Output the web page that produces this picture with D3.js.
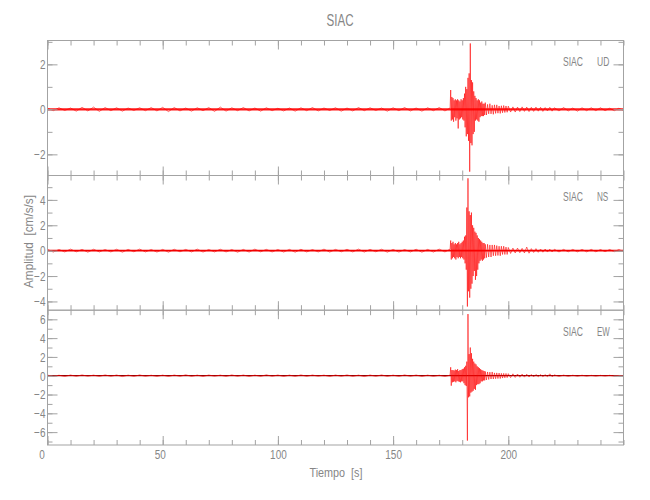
<!DOCTYPE html>
<html>
<head>
<meta charset="utf-8">
<script src="https://cdn.jsdelivr.net/npm/d3@7"></script>
<style>
  html, body { margin: 0; padding: 0; background: #fff; }
  svg text { font-family: "Liberation Sans", Arial, sans-serif; fill: #868686; }
</style>
</head>
<body>
<script>
// ---------------- DATA ----------------
const title = "SIAC";
const station = "SIAC";
const components = ["UD", "NS", "EW"];
const xLabel = "Tiempo  [s]";
const yLabel = "Amplitud  [cm/s/s]";
const xTicksMajor = [0, 50, 100, 150, 200];
const udTicks = [-2, 0, 2];
const nsTicks = [-4, -2, 0, 2, 4];
const ewTicks = [-6, -4, -2, 0, 2, 4, 6];

const times = [
  0,2.5,5,7.5,10,12.5,15,17.5,20,22.5,
  25,27.5,30,32.5,35,37.5,40,42.5,45,47.5,
  50,52.5,55,57.5,60,62.5,65,67.5,70,72.5,
  75,77.5,80,82.5,85,87.5,90,92.5,95,97.5,
  100,102.5,105,107.5,110,112.5,115,117.5,120,122.5,
  125,127.5,130,132.5,135,137.5,140,142.5,145,147.5,
  150,152.5,155,157.5,160,162.5,165,167.5,170,172.5,
  174.75,
  175,175.25,175.5,175.75,176,176.25,176.5,176.75,177,177.25,
  177.5,177.75,178,178.25,178.5,178.75,179,179.25,179.5,179.75,
  180,180.25,180.5,180.75,181,181.25,181.5,181.75,182,182.25,
  182.5,182.75,183,183.25,183.5,183.75,184,184.25,184.5,184.75,
  185,185.25,185.5,185.75,186,186.25,186.5,186.75,187,187.25,
  187.5,187.75,188,188.25,188.5,188.75,189,189.25,189.5,189.75,
  190,
  190.5,191,191.5,192,192.5,193,193.5,194,194.5,195,
  195.5,196,196.5,197,197.5,198,198.5,199,199.5,200,
  201,202,203,204,205,206,207,208,209,210,
  211,212,213,214,215,216,217,218,219,220,
  222,224,226,228,230,232,234,236,238,240,242,244,246,248,250
];

const ud = [
  0.05,-0.06,0.07,-0.05,0.06,-0.08,0.09,-0.07,0.1,-0.09,
  0.08,-0.06,0.07,-0.08,0.06,-0.05,0.07,-0.06,0.08,-0.07,
  0.09,-0.1,0.08,-0.07,0.06,-0.08,0.07,-0.06,0.08,-0.09,
  0.1,-0.08,0.07,-0.06,0.08,-0.07,0.06,-0.08,0.07,-0.06,
  0.05,-0.07,0.06,-0.08,0.07,-0.06,0.08,-0.07,0.06,-0.05,
  0.07,-0.08,0.06,-0.07,0.08,-0.06,0.07,-0.05,0.06,-0.08,
  0.07,-0.06,0.08,-0.07,0.06,-0.08,0.07,-0.06,0.08,-0.07,
  0.06,
  0.86,-0.5,0.55,-0.45,0.5,-0.55,0.4,-0.35,0.45,-0.5,
  0.4,-0.4,0.45,-0.85,0.4,-0.45,0.35,-0.4,0.45,-0.35,
  0.4,-0.45,0.5,-0.5,0.7,-0.8,1.0,-1.2,0.9,-1.1,
  1.4,-1.4,1.6,-2.77,2.93,-1.5,1.3,-1.6,1.2,-1.1,
  0.8,-1.0,0.6,-0.5,0.5,-0.45,0.4,-0.5,0.45,-0.55,
  0.4,-0.35,0.3,-0.3,0.35,-0.3,0.25,-0.3,0.25,-0.25,
  0.3,
  -0.25,0.22,-0.2,0.25,-0.2,0.18,-0.22,0.2,-0.18,0.2,
  -0.17,0.15,-0.18,0.16,-0.15,0.17,-0.14,0.15,-0.13,0.14,
  -0.12,0.11,-0.12,0.1,-0.1,0.11,-0.09,0.1,-0.1,0.09,
  -0.09,0.1,-0.08,0.09,-0.09,0.08,-0.07,0.09,-0.08,0.07,
  -0.07,0.08,-0.07,0.06,-0.08,0.07,-0.06,0.07,-0.06,0.07,-0.06,0.05,-0.06,0.05,-0.05
];

const ns = [
  0.1,-0.11,0.09,-0.1,0.12,-0.09,0.1,-0.12,0.11,-0.1,
  0.09,-0.1,0.11,-0.12,0.1,-0.09,0.12,-0.1,0.09,-0.11,
  0.1,-0.12,0.11,-0.09,0.1,-0.1,0.12,-0.11,0.09,-0.1,
  0.11,-0.1,0.09,-0.12,0.1,-0.11,0.12,-0.09,0.1,-0.1,
  0.09,-0.11,0.1,-0.12,0.11,-0.1,0.09,-0.1,0.12,-0.11,
  0.1,-0.09,0.11,-0.1,0.12,-0.11,0.1,-0.09,0.11,-0.12,
  0.1,-0.11,0.09,-0.1,0.11,-0.12,0.1,-0.11,0.12,-0.1,
  0.12,
  0.8,-0.7,0.6,-0.6,0.7,-0.5,0.5,-0.6,0.6,-0.7,
  0.5,-0.5,0.6,-0.6,0.7,-0.5,0.5,-0.6,0.6,-0.5,
  0.7,-0.6,0.8,-0.7,1.1,-1.0,1.2,-1.5,3.4,-4.4,
  5.7,-3.2,3.1,-3.7,2.8,-3.0,3.0,-2.6,2.0,-2.0,
  1.8,-1.6,1.5,-2.3,1.4,-2.0,1.2,-1.5,1.0,-1.0,
  0.9,-0.8,0.8,-0.7,0.7,-0.8,0.6,-0.7,0.6,-0.6,
  0.5,
  -0.55,0.5,-0.5,0.45,-0.5,0.45,-0.4,0.45,-0.4,0.4,
  -0.38,0.35,-0.4,0.35,-0.3,0.35,-0.3,0.28,-0.3,0.25,
  -0.22,0.2,-0.18,0.2,-0.16,0.18,-0.18,0.28,-0.2,0.16,
  -0.14,0.16,-0.13,0.13,-0.12,0.13,-0.11,0.12,-0.1,0.11,
  -0.1,0.1,-0.09,0.1,-0.09,0.1,-0.09,0.1,-0.09,0.09,-0.08,0.09,-0.08,0.09,-0.08
];

const ew = [
  0.06,-0.07,0.05,-0.08,0.07,-0.06,0.08,-0.05,0.06,-0.07,
  0.08,-0.06,0.07,-0.09,0.06,-0.07,0.08,-0.06,0.05,-0.07,
  0.06,-0.08,0.07,-0.06,0.09,-0.07,0.06,-0.08,0.07,-0.05,
  0.06,-0.07,0.08,-0.06,0.07,-0.08,0.06,-0.07,0.09,-0.06,
  0.07,-0.08,0.06,-0.07,0.08,-0.06,0.07,-0.05,0.06,-0.08,
  0.07,-0.06,0.08,-0.07,0.06,-0.09,0.07,-0.06,0.08,-0.07,
  0.06,-0.07,0.08,-0.06,0.07,-0.08,0.06,-0.07,0.05,-0.08,
  0.06,
  0.9,-1.06,0.6,-0.7,0.6,-0.65,0.55,-0.6,0.65,-0.7,
  0.6,-0.55,0.7,-0.6,0.5,-0.65,0.6,-0.7,0.6,-0.6,
  0.7,-0.6,0.75,-0.8,0.9,-1.0,1.06,-1.1,1.5,-6.9,
  6.56,-2.3,2.3,-2.2,3.0,-1.8,2.4,-1.7,1.8,-1.6,
  1.5,-1.4,1.3,-1.5,1.2,-1.0,1.0,-0.9,0.9,-0.9,
  0.8,-0.8,0.7,-0.6,0.6,-0.6,0.55,-0.5,0.5,-0.5,
  0.45,
  -0.45,0.4,-0.4,0.38,-0.35,0.4,-0.35,0.3,-0.32,0.3,
  -0.3,0.28,-0.3,0.25,-0.25,0.25,-0.22,0.24,-0.2,0.22,
  -0.2,0.2,-0.18,0.18,-0.16,0.17,-0.15,0.16,-0.14,0.13,
  -0.12,0.13,-0.11,0.12,-0.1,0.11,-0.1,0.2,-0.1,0.08,
  -0.07,0.06,-0.06,0.05,-0.05,0.05,-0.04,0.04,-0.04,0.04,-0.03,0.04,-0.03,0.03,-0.03
];

// ---------------- LAYOUT ----------------
const W = 650, H = 500;
const left = 47.5, right = 623.5;
const panels = [
  { comp: components[0], vals: ud, top: 40.5,  bottom: 175.5, dom: [-2.94, 3.06], major: udTicks, labelY: 66,    compW: 12.3, base: "#ff1a1a", baseW: 2.4 },
  { comp: components[1], vals: ns, top: 175.5, bottom: 310.2, dom: [-4.69, 5.92], major: nsTicks, labelY: 200.7, compW: 11.3, base: "#ee0000", baseW: 1.9 },
  { comp: components[2], vals: ew, top: 310.2, bottom: 445,   dom: [-7.37, 6.97], major: ewTicks, labelY: 336,   compW: 12.7, base: "#8a0000", baseW: 1.3 }
];

const svg = d3.select("body").append("svg")
  .attr("width", W).attr("height", H)
  .style("background", "#fff");

const x = d3.scaleLinear().domain([0, 250]).range([left, right]);
const xMinor = d3.range(0, 251, 10);

const axisColor = "#a3a3a3";
const tickFont = 13.5, sx = 0.74;
function styleAxis(g) {
  g.select(".domain").remove();
  g.selectAll(".tick line").attr("stroke", axisColor).attr("stroke-width", 1);
  g.selectAll(".tick text").attr("font-size", tickFont + "px").attr("fill", "#868686")
    .attr("font-family", '"Liberation Sans", Arial, sans-serif');
}
function narrowText(g) {
  g.selectAll(".tick text").each(function () {
    const t = d3.select(this);
    const tx = +t.attr("x") || 0;
    t.attr("transform", `translate(${tx},0) scale(${sx},1)`).attr("x", 0);
  });
}

panels.forEach((p, i) => {
  const y = d3.scaleLinear().domain(p.dom).range([p.bottom, p.top]);
  const yMinor = d3.range(Math.ceil(p.dom[0]), Math.floor(p.dom[1]) + 1, 1);
  const g = svg.append("g");

  const clipId = "clip" + i;
  svg.append("clipPath").attr("id", clipId).append("rect")
    .attr("x", left).attr("y", p.top).attr("width", right - left).attr("height", p.bottom - p.top);

  g.append("line")
    .attr("x1", x(0)).attr("x2", x(250)).attr("y1", y(0)).attr("y2", y(0))
    .attr("stroke", p.base).attr("stroke-width", p.baseW);

  const pts = times.map((t, k) => [t, p.vals[k]]);
  g.append("path")
    .datum(pts)
    .attr("clip-path", `url(#${clipId})`)
    .attr("fill", "none")
    .attr("stroke", "#ff0000")
    .attr("stroke-width", 0.7)
    .attr("stroke-opacity", 0.85)
    .attr("stroke-linejoin", "round")
    .attr("d", d3.line().x(d => x(d[0])).y(d => y(d[1])));

  svg.append("rect")
    .attr("x", left).attr("y", p.top).attr("width", right - left).attr("height", p.bottom - p.top)
    .attr("fill", "none").attr("stroke", axisColor).attr("stroke-width", 1);

  svg.append("g").attr("transform", `translate(${left},0)`)
    .call(d3.axisRight(y).tickValues(yMinor).tickSize(5).tickFormat("")).call(styleAxis);
  svg.append("g").attr("transform", `translate(${left},0)`)
    .call(d3.axisRight(y).tickValues(p.major).tickSize(10).tickFormat("")).call(styleAxis);
  svg.append("g").attr("transform", `translate(${left},0)`)
    .call(d3.axisLeft(y).tickValues(p.major).tickSize(0).tickPadding(2)
      .tickFormat(d => d < 0 ? "\u2212" + Math.abs(d) : String(d)))
    .call(styleAxis).call(narrowText);
  svg.append("g").attr("transform", `translate(${right},0)`)
    .call(d3.axisLeft(y).tickValues(yMinor).tickSize(5).tickFormat("")).call(styleAxis);
  svg.append("g").attr("transform", `translate(${right},0)`)
    .call(d3.axisLeft(y).tickValues(p.major).tickSize(10).tickFormat("")).call(styleAxis);

  svg.append("g").attr("transform", `translate(0,${p.top})`)
    .call(d3.axisBottom(x).tickValues(xMinor).tickSize(5).tickFormat("")).call(styleAxis);
  svg.append("g").attr("transform", `translate(0,${p.top})`)
    .call(d3.axisBottom(x).tickValues(xTicksMajor).tickSize(9).tickFormat("")).call(styleAxis);
  svg.append("g").attr("transform", `translate(0,${p.bottom})`)
    .call(d3.axisTop(x).tickValues(xMinor).tickSize(5).tickFormat("")).call(styleAxis);
  svg.append("g").attr("transform", `translate(0,${p.bottom})`)
    .call(d3.axisTop(x).tickValues(xTicksMajor).tickSize(9).tickFormat("")).call(styleAxis);

  svg.append("text").attr("x", 563).attr("y", p.labelY)
    .attr("font-size", "13.5px").attr("textLength", 20).attr("lengthAdjust", "spacingAndGlyphs")
    .text(station);
  svg.append("text").attr("x", 597).attr("y", p.labelY)
    .attr("font-size", "13.5px").attr("textLength", p.compW).attr("lengthAdjust", "spacingAndGlyphs")
    .text(p.comp);

  if (i === panels.length - 1) {
    const xl = svg.append("g").attr("transform", `translate(0,${p.bottom})`)
      .call(d3.axisBottom(x).tickValues(xTicksMajor).tickSize(0).tickPadding(4))
      .call(styleAxis);
    xl.selectAll(".tick text").attr("x", d => d === 0 ? -6 : (d === 50 ? -3 : 0));
    xl.call(narrowText);
  }
});

svg.append("text").attr("x", 340).attr("y", 26).attr("text-anchor", "middle")
  .attr("font-size", "17px").attr("textLength", 27).attr("lengthAdjust", "spacingAndGlyphs").text(title);

svg.append("text").attr("x", 336).attr("y", 477).attr("text-anchor", "middle")
  .attr("font-size", "13.5px").attr("textLength", 53).attr("lengthAdjust", "spacingAndGlyphs")
  .style("white-space", "pre").text(xLabel);
svg.append("text").attr("transform", "translate(33,241.5) rotate(-90)").attr("text-anchor", "middle")
  .attr("font-size", "13.5px").attr("textLength", 93).attr("lengthAdjust", "spacingAndGlyphs")
  .style("white-space", "pre").text(yLabel);
</script>
</body>
</html>
